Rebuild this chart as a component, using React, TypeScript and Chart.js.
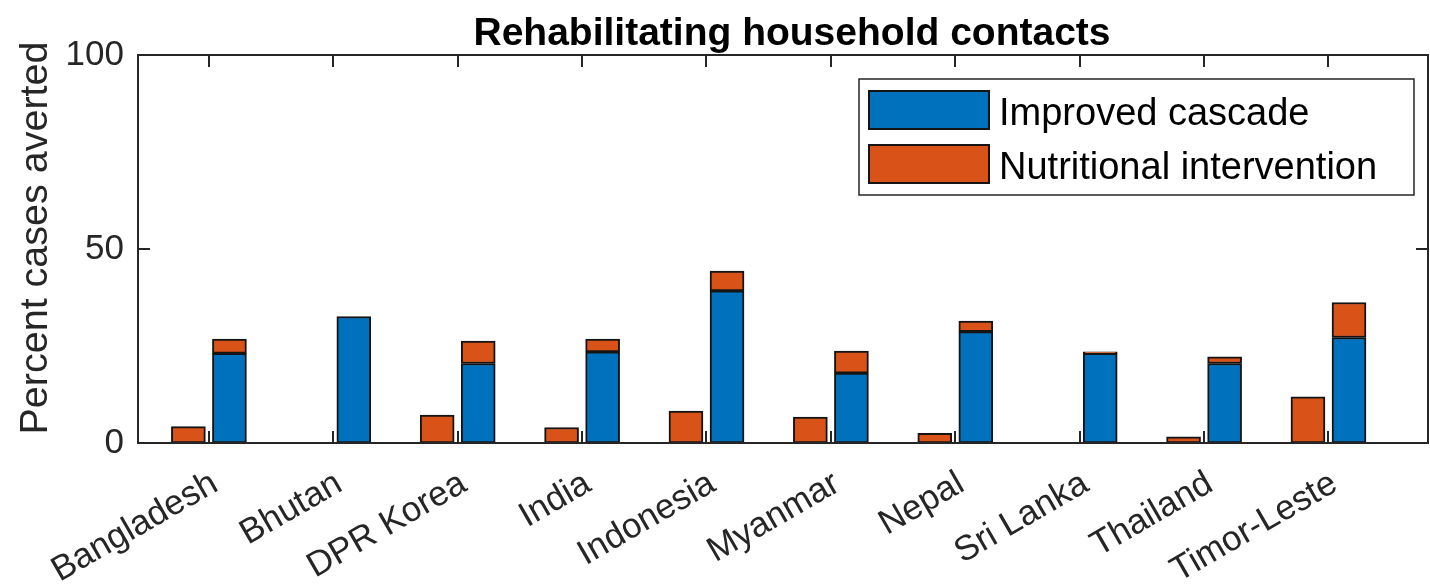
import React, { useEffect, useRef } from "react";
import { Chart, registerables } from "chart.js";

Chart.register(...registerables);

// Countries along the x axis
const countries = [
  "Bangladesh",
  "Bhutan",
  "DPR Korea",
  "India",
  "Indonesia",
  "Myanmar",
  "Nepal",
  "Sri Lanka",
  "Thailand",
  "Timor-Leste",
];

// Left bar of each pair: nutritional intervention on its own
const nutritionalAlone = [4.2, 0, 7.2, 4.0, 8.2, 6.7, 2.5, 0, 1.6, 11.9];
// Right bar of each pair: improved cascade, with the nutritional gain stacked on top
const improvedCascade = [23.1, 32.6, 20.5, 23.5, 39.2, 18.0, 28.7, 23.1, 20.5, 27.2];
const nutritionalOnTop = [3.7, 0, 5.8, 3.3, 5.1, 5.7, 2.7, 0.4, 1.7, 9.0];

const yTicks = [0, 50, 100];
const legendLabels = ["Improved cascade", "Nutritional intervention"];
const titleText = "Rehabilitating household contacts";
const yAxisTitle = "Percent cases averted";

const BLUE = "#0072BD";
const ORANGE = "#D95319";
const EDGE = "#141414";
const AXIS = "#262626";
const FONT = "'Liberation Sans', Arial, Helvetica, sans-serif";
const PAIR_OFFSET = 0.165; // half-distance between the two bars of a country
const TICK_LEN = 12;

const framePlugin = {
  id: "matlabFrame",
  afterDatasetsDraw(chart: any) {
    const { ctx, chartArea } = chart;
    const { left, right, top, bottom } = chartArea;
    const xs = chart.scales.x;
    const ys = chart.scales.y;
    ctx.save();
    ctx.strokeStyle = AXIS;
    ctx.lineWidth = 2;
    ctx.strokeRect(left, top, right - left, bottom - top);
    ctx.beginPath();
    countries.forEach((_, i) => {
      const px = Math.round(xs.getPixelForValue(i + 1));
      ctx.moveTo(px, bottom);
      ctx.lineTo(px, bottom - TICK_LEN);
      ctx.moveTo(px, top);
      ctx.lineTo(px, top + TICK_LEN);
    });
    yTicks.forEach((v) => {
      const py = Math.round(ys.getPixelForValue(v));
      ctx.moveTo(left, py);
      ctx.lineTo(left + TICK_LEN, py);
      ctx.moveTo(right, py);
      ctx.lineTo(right - TICK_LEN, py);
    });
    ctx.stroke();
    ctx.restore();
  },
  afterDraw(chart: any) {
    const { ctx, chartArea } = chart;
    const { left, right, top, bottom } = chartArea;
    ctx.save();

    // Title
    ctx.fillStyle = "#000";
    ctx.font = `bold 39px ${FONT}`;
    ctx.textAlign = "center";
    ctx.textBaseline = "alphabetic";
    ctx.fillText(titleText, (left + right) / 2 + 9, 45);

    // Y axis title
    ctx.save();
    ctx.translate(47, (top + bottom) / 2 - 11);
    ctx.rotate(-Math.PI / 2);
    ctx.fillStyle = AXIS;
    ctx.font = `39.5px ${FONT}`;
    ctx.textAlign = "center";
    ctx.textBaseline = "alphabetic";
    ctx.fillText(yAxisTitle, 0, 0);
    ctx.restore();

    // Legend box
    const bx = right - 569;
    const by = top + 24;
    const bw = 555;
    const bh = 116;
    ctx.fillStyle = "#fff";
    ctx.fillRect(bx, by, bw, bh);
    ctx.strokeStyle = AXIS;
    ctx.lineWidth = 1.5;
    ctx.strokeRect(bx, by, bw, bh);
    const colors = [BLUE, ORANGE];
    legendLabels.forEach((label, i) => {
      const py = by + 12 + i * 54;
      ctx.fillStyle = colors[i];
      ctx.fillRect(bx + 10, py, 120, 38);
      ctx.strokeStyle = EDGE;
      ctx.lineWidth = 2;
      ctx.strokeRect(bx + 10, py, 120, 38);
      ctx.fillStyle = "#000";
      ctx.font = `38px ${FONT}`;
      ctx.textAlign = "left";
      ctx.textBaseline = "alphabetic";
      ctx.fillText(label, bx + 140, py + 34);
    });
    ctx.restore();
  },
};

export default function App() {
  const canvasRef = useRef<HTMLCanvasElement | null>(null);

  useEffect(() => {
    if (!canvasRef.current) return;
    const barStyle = {
      borderColor: EDGE,
      borderWidth: 2,
      borderSkipped: false,
      barThickness: 34,
      stack: "all",
    };
    const chart = new Chart(canvasRef.current, {
      type: "bar",
      data: {
        datasets: [
          {
            label: legendLabels[0],
            data: improvedCascade.map((v, i) => ({ x: i + 1 + PAIR_OFFSET, y: v })),
            backgroundColor: BLUE,
            ...barStyle,
          },
          {
            label: legendLabels[1],
            data: nutritionalOnTop.map((v, i) => ({ x: i + 1 + PAIR_OFFSET, y: v })),
            backgroundColor: ORANGE,
            ...barStyle,
          },
          {
            label: "Nutritional intervention only",
            data: nutritionalAlone.map((v, i) => ({ x: i + 1 - PAIR_OFFSET, y: v })),
            backgroundColor: ORANGE,
            ...barStyle,
          },
        ],
      } as any,
      options: {
        animation: false,
        responsive: true,
        maintainAspectRatio: false,
        events: [],
        layout: { padding: { top: 55, right: 2, left: 0, bottom: 0 } },
        plugins: {
          legend: { display: false },
          title: { display: false },
          tooltip: { enabled: false },
        },
        scales: {
          x: {
            type: "linear",
            min: 0.43,
            max: 10.8,
            offset: false,
            stacked: true,
            afterBuildTicks: (s: any) => {
              s.ticks = countries.map((_, i) => ({ value: i + 1 }));
            },
            afterFit: (s: any) => {
              s.height = 144;
              s.paddingLeft = 0;
              s.paddingRight = 0;
            },
            ticks: {
              autoSkip: false,
              minRotation: 30,
              maxRotation: 30,
              padding: 20,
              labelOffset: 6,
              color: AXIS,
              font: { family: FONT, size: 35 },
              callback: (v: any) => countries[Math.round(Number(v)) - 1] ?? "",
            },
            grid: { display: false, drawTicks: false, offset: false },
            border: { display: false },
          },
          y: {
            min: 0,
            max: 100,
            stacked: true,
            afterBuildTicks: (s: any) => {
              s.ticks = yTicks.map((v) => ({ value: v }));
            },
            afterFit: (s: any) => {
              s.width = 138;
              s.paddingTop = 0;
              s.paddingBottom = 0;
            },
            ticks: {
              padding: 14,
              color: AXIS,
              font: { family: FONT, size: 35 },
            },
            grid: { display: false, drawTicks: false },
            border: { display: false },
          },
        },
      } as any,
      plugins: [framePlugin],
    });
    return () => chart.destroy();
  }, []);

  return (
    <div style={{ position: "absolute", left: 0, top: 0, width: 1430, height: 587, background: "#fff" }}>
      <canvas ref={canvasRef} />
    </div>
  );
}
